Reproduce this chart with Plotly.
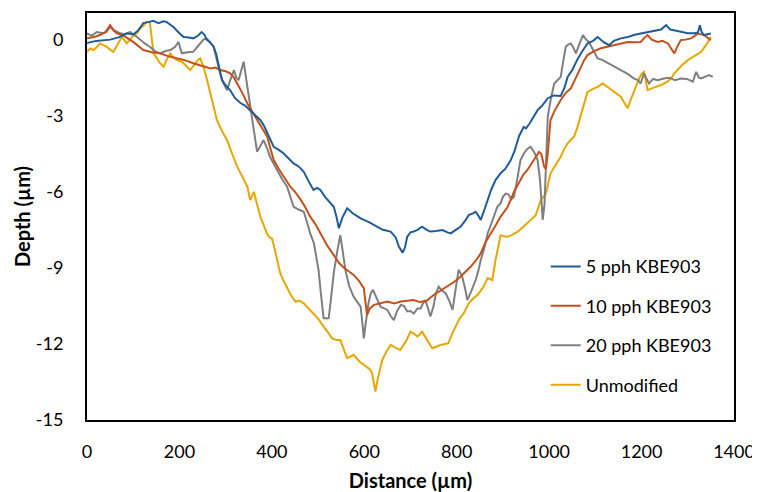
import plotly.graph_objects as go

# ---- data (Distance µm, Depth µm) ----
x_5pph = [0,20,50,70,86,100,110,122,135,143,155,165,172,180,187,200,209,220,230,240,248,254,259,266,274,280,285,292,300,310,320,332,342,353,365,375,383,390,397,404,415,425,437,447,458,469,480,490,498,505,515,525,534,540,545,553,563,575,592,610,628,640,657,668,675,683,688,693,700,707,715,725,735,743,755,769,780,787,798,808,818,826,835,841,847,852,860,867,875,884,895,905,917,925,935,945,950,958,965,975,985,997,1010,1025,1033,1040,1050,1062,1072,1083,1095,1105,1118,1130,1140,1155,1170,1183,1198,1213,1228,1242,1253,1262,1275,1285,1300,1315,1322,1326,1330,1335,1342,1350]
y_5pph = [-0.13,-0.05,0.0,0.1,0.25,0.2,0.35,0.65,0.7,0.74,0.65,0.72,0.7,0.6,0.5,0.25,0.1,0.08,0.05,0.15,0.3,0.2,0.0,-0.1,-0.28,-0.6,-1.08,-1.6,-1.8,-2.0,-2.3,-2.5,-2.6,-2.78,-3.0,-3.17,-3.4,-3.69,-4.0,-4.23,-4.35,-4.48,-4.7,-4.88,-5.0,-5.21,-5.6,-5.93,-5.85,-5.93,-6.2,-6.4,-6.59,-7.0,-7.44,-7.0,-6.65,-6.85,-7.05,-7.2,-7.38,-7.5,-7.57,-7.8,-8.17,-8.4,-8.2,-7.77,-7.6,-7.57,-7.5,-7.38,-7.5,-7.57,-7.55,-7.51,-7.6,-7.64,-7.5,-7.38,-7.15,-6.92,-6.85,-6.79,-6.95,-7.11,-6.7,-6.33,-5.9,-5.54,-5.27,-5.1,-4.75,-4.4,-3.8,-3.44,-3.5,-3.3,-3.1,-2.78,-2.6,-2.31,-2.2,-2.22,-1.9,-1.47,-1.2,-0.75,-0.45,-0.15,-0.05,0.1,-0.1,-0.22,-0.05,0.05,0.1,0.18,0.24,0.3,0.35,0.4,0.57,0.4,0.35,0.31,0.25,0.25,0.28,0.57,0.3,0.18,0.2,0.24]

x_10pph = [0,15,28,40,50,58,65,80,100,110,122,140,158,175,194,210,230,250,267,278,288,300,310,318,325,336,347,358,368,380,390,397,404,415,426,440,450,462,472,483,495,505,519,534,545,556,566,577,588,599,606,612,621,635,650,665,679,693,707,720,735,750,765,780,795,808,820,830,842,852,862,873,885,895,910,924,935,945,953,965,978,983,989,993,997,1003,1012,1025,1036,1047,1058,1068,1076,1083,1097,1112,1127,1141,1155,1170,1185,1198,1205,1213,1222,1235,1245,1257,1264,1271,1278,1285,1295,1307,1315,1322,1335,1342,1350]
y_10pph = [0.05,0.1,0.18,0.3,0.57,0.35,0.25,0.15,-0.09,-0.25,-0.41,-0.5,-0.54,-0.65,-0.74,-0.8,-0.93,-1.05,-1.14,-1.1,-1.2,-1.25,-1.33,-1.5,-1.73,-2.1,-2.52,-2.85,-3.17,-3.5,-3.83,-4.3,-4.75,-5.1,-5.4,-5.8,-6.0,-6.3,-6.6,-6.98,-7.3,-7.64,-8.1,-8.5,-8.8,-9.0,-9.15,-9.28,-9.5,-9.8,-10.86,-10.6,-10.46,-10.4,-10.33,-10.4,-10.33,-10.3,-10.27,-10.35,-10.3,-10.07,-9.9,-9.74,-9.55,-9.35,-9.15,-8.96,-8.7,-8.43,-8.0,-7.64,-7.3,-6.98,-6.6,-6.0,-5.6,-5.3,-5.14,-4.8,-4.43,-4.5,-5.0,-5.1,-4.5,-3.17,-2.8,-2.38,-2.1,-1.92,-1.5,-1.08,-0.8,-0.61,-0.45,-0.34,-0.28,-0.22,-0.15,-0.09,-0.1,-0.09,0.05,0.18,0.0,-0.09,-0.05,-0.15,-0.35,-0.54,-0.25,-0.02,0.0,0.05,0.15,0.24,0.18,0.1,-0.02]

x_20pph = [0,10,21,35,42,50,60,72,82,93,105,115,125,136,147,158,170,180,190,198,205,218,230,238,245,252,259,266,274,281,288,295,303,310,318,323,328,334,339,344,350,360,368,375,382,390,396,404,411,422,433,440,447,458,469,476,483,491,496,501,506,512,518,523,528,534,541,548,553,559,567,577,585,592,596,599,603,609,614,619,627,635,643,650,657,664,671,679,686,693,700,707,715,722,727,732,738,743,750,755,761,768,776,784,791,797,804,808,812,818,823,832,841,847,852,860,867,874,880,888,895,900,906,912,918,924,931,938,945,953,960,968,975,980,984,986,990,993,997,1004,1011,1018,1025,1031,1036,1041,1047,1052,1058,1065,1073,1080,1086,1095,1105,1115,1127,1140,1155,1170,1183,1192,1198,1205,1212,1216,1225,1235,1248,1260,1272,1285,1298,1311,1318,1324,1329,1338,1346,1354]
y_20pph = [0.25,0.15,0.3,0.25,0.3,0.5,0.35,0.25,0.2,0.3,0.15,-0.02,-0.15,-0.28,-0.45,-0.54,-0.45,-0.41,-0.3,-0.09,-0.54,-0.5,-0.48,-0.3,-0.15,0.0,0.05,-0.1,-0.28,-0.8,-1.33,-1.7,-1.99,-1.6,-1.2,-1.5,-1.6,-1.2,-0.87,-1.5,-2.25,-3.3,-4.42,-4.2,-3.96,-4.3,-4.62,-4.9,-5.14,-5.5,-5.8,-6.2,-6.59,-6.7,-6.79,-7.2,-7.64,-8.03,-8.5,-9.08,-10.0,-10.98,-11.0,-10.98,-10.2,-9.2,-8.4,-7.71,-8.3,-9.08,-9.7,-10.14,-10.35,-10.53,-11.2,-11.78,-11.2,-10.4,-10.0,-9.87,-10.2,-10.53,-10.6,-10.66,-10.9,-11.06,-10.7,-10.46,-10.5,-10.72,-10.7,-10.8,-10.6,-10.6,-10.4,-10.27,-10.6,-10.92,-10.5,-10.0,-9.74,-9.9,-10.0,-10.3,-10.66,-10.0,-9.08,-9.2,-9.35,-9.8,-10.27,-9.9,-9.48,-9.1,-8.69,-8.2,-7.64,-7.3,-6.98,-6.59,-6.45,-6.2,-6.07,-6.1,-6.3,-6.2,-5.5,-4.75,-4.5,-4.3,-4.23,-4.45,-4.75,-5.5,-6.5,-7.11,-6.5,-5.0,-3.04,-2.3,-1.73,-1.6,-1.47,-0.8,-0.28,-0.2,-0.15,-0.3,-0.54,-0.2,0.18,0.0,-0.09,-0.4,-0.74,-0.8,-0.93,-1.05,-1.2,-1.35,-1.53,-1.6,-1.73,-1.33,-1.6,-1.73,-1.55,-1.6,-1.53,-1.5,-1.6,-1.53,-1.55,-1.66,-1.27,-1.5,-1.53,-1.45,-1.4,-1.47]

x_unmod = [0,7,14,21,28,35,43,50,57,66,75,80,86,93,101,108,115,122,129,136,140,144,150,158,166,172,180,187,194,202,209,216,223,232,240,245,252,260,267,274,281,292,303,314,325,336,347,353,361,368,375,382,389,395,400,404,410,418,425,433,442,451,460,469,480,491,500,512,520,530,540,548,555,563,570,577,590,606,612,617,621,624,630,639,648,657,667,678,690,700,708,715,725,735,747,757,765,775,782,790,797,806,815,826,836,845,852,858,867,872,877,884,890,895,903,910,920,932,943,953,962,971,982,993,1003,1015,1025,1033,1040,1047,1054,1062,1068,1076,1083,1094,1105,1116,1125,1134,1145,1155,1163,1170,1177,1184,1193,1200,1205,1209,1213,1225,1242,1256,1265,1271,1285,1300,1315,1329,1340,1350]
y_unmod = [-0.48,-0.35,-0.41,-0.3,-0.15,-0.2,-0.28,-0.4,-0.48,-0.2,0.1,0.0,-0.15,0.0,0.18,0.25,0.44,0.55,0.7,0.68,0.1,-0.54,-0.7,-0.93,-1.07,-0.8,-0.54,-0.7,-0.81,-0.85,-0.93,-1.05,-1.2,-1.0,-0.8,-0.74,-1.07,-1.6,-2.12,-2.7,-3.17,-3.6,-3.96,-4.5,-5.01,-5.4,-5.8,-6.33,-6.0,-6.5,-6.98,-7.3,-7.64,-7.8,-7.83,-8.1,-8.6,-9.2,-9.5,-9.8,-10.1,-10.33,-10.3,-10.4,-10.6,-10.8,-11.0,-11.32,-11.5,-11.78,-11.85,-11.85,-12.2,-12.56,-12.5,-12.43,-12.7,-12.9,-13.0,-13.16,-13.5,-13.88,-13.3,-12.63,-12.3,-12.04,-12.15,-12.24,-11.9,-11.52,-11.6,-11.71,-11.52,-11.8,-12.17,-12.1,-12.04,-12.0,-11.97,-11.6,-11.32,-11.0,-10.8,-10.4,-10.2,-10.07,-9.9,-9.74,-9.4,-9.45,-9.48,-8.69,-8.1,-7.71,-7.75,-7.77,-7.7,-7.57,-7.4,-7.24,-7.1,-6.92,-6.33,-6.07,-5.27,-4.9,-4.62,-4.3,-4.09,-3.95,-3.83,-3.4,-3.04,-2.5,-2.06,-1.95,-1.86,-1.73,-1.85,-1.99,-2.1,-2.25,-2.5,-2.7,-2.35,-1.99,-1.6,-1.35,-1.27,-1.6,-1.99,-1.9,-1.79,-1.66,-1.5,-1.33,-1.05,-0.81,-0.65,-0.48,-0.2,0.1]

series_names = ["5 pph KBE903", "10 pph KBE903", "20 pph KBE903", "Unmodified"]
series_x = [x_5pph, x_10pph, x_20pph, x_unmod]
series_y = [y_5pph, y_10pph, y_20pph, y_unmod]
series_colors = ["#1F5C99", "#C4501B", "#7F7F7F", "#E6A700"]

x_ticks = [0, 200, 400, 600, 800, 1000, 1200, 1400]
y_ticks = [0, -3, -6, -9, -12, -15]

FONT = "Lato"

fig = go.Figure()
# draw in reverse so blue is on top, as in the reference
for i in [3, 2, 1, 0]:
    fig.add_trace(go.Scatter(
        x=series_x[i], y=series_y[i], mode="lines", name=series_names[i],
        legendgroup=str(i), legendrank=i + 1,
        line=dict(color=series_colors[i], width=2),
    ))

# page body adds an 8px margin, so the figure is 752x484
fig.update_layout(
    width=752, height=484,
    margin=dict(l=79, r=26, t=5, b=72),
    paper_bgcolor="white", plot_bgcolor="white",
    font=dict(family=FONT, size=18, color="black"),
    showlegend=True,
    legend=dict(
        x=0.709, y=0.422, xanchor="left", yanchor="top",
        bgcolor="rgba(0,0,0,0)", borderwidth=0,
        font=dict(family=FONT, size=18, color="black"),
        itemwidth=30, tracegroupgap=13, traceorder="grouped",
    ),
    xaxis=dict(
        range=[0, 1400], tickvals=x_ticks, ticktext=[str(v) for v in x_ticks],
        showgrid=False, zeroline=False, showline=True, linecolor="black",
        linewidth=2, mirror=True, ticks="", ticklabelstandoff=14,
        automargin=False,
        title=dict(text="<b>Distance (µm)</b>", font=dict(family=FONT, size=20), standoff=16),
    ),
    yaxis=dict(
        range=[-15, 1.05], tickvals=y_ticks, ticktext=[str(v) for v in y_ticks],
        showgrid=False, zeroline=False, showline=True, linecolor="black",
        linewidth=2, mirror=True, ticks="", ticklabelstandoff=18,
        automargin=False,
        title=dict(text="<b>Depth (µm)</b>", font=dict(family=FONT, size=20), standoff=0),
    ),
)

fig.write_html("out.html")
